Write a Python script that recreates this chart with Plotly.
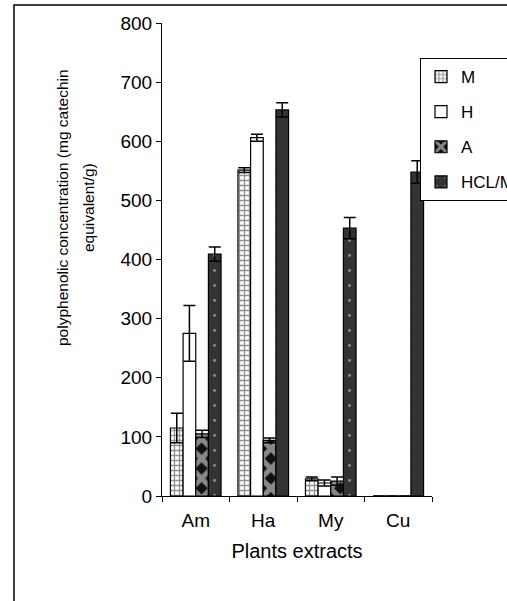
import plotly.graph_objects as go

categories = ["Am", "Ha", "My", "Cu"]
series_names = ["M", "H", "A", "HCL/M"]
m_vals = [115, 551, 29, 0]
m_err = [25, 4, 3, 0]
h_vals = [275, 606, 22, 0]
h_err = [47, 6, 5, 0]
a_vals = [105, 94, 25, 0]
a_err = [6, 4, 7, 0]
hcl_vals = [409, 653, 453, 548]
hcl_err = [12, 12, 18, 19]
y_ticks = [0, 100, 200, 300, 400, 500, 600, 700, 800]

FONT = "Liberation Sans, Arial, sans-serif"

styles = [
    dict(color="white", pattern=dict(shape="+", fgcolor="#222", bgcolor="white", size=5, solidity=0.45)),
    dict(color="white"),
    dict(color="white", pattern=dict(shape="x", fgcolor="white", bgcolor="#111", size=14, solidity=0.6)),
    dict(color="#333333", pattern=dict(shape=".", fgcolor="#e8e8e8", bgcolor="#333333", size=15, solidity=0.03)),
]
vals = [m_vals, h_vals, a_vals, hcl_vals]
errs = [m_err, h_err, a_err, hcl_err]

fig = go.Figure()
for i, name in enumerate(series_names):
    marker = dict(styles[i])
    marker["line"] = dict(color="black", width=1.2)
    fig.add_trace(go.Bar(
        x=categories, y=vals[i], name=name, legendgroup=name,
        marker=marker,
        error_y=dict(type="data", array=errs[i], visible=True, color="black", thickness=1.5, width=6),
    ))

fig.update_layout(
    width=507, height=601,
    margin=dict(l=162, r=75, t=23, b=105, autoexpand=False),
    plot_bgcolor="white", paper_bgcolor="white",
    barmode="group", bargap=0.25, bargroupgap=0,
    font=dict(family=FONT, color="black", size=16),
    showlegend=True,
    legend=dict(x=(420 - 162) / 270, y=0.926, xanchor="left", yanchor="top",
                bordercolor="black", borderwidth=1, bgcolor="white",
                font=dict(size=17, family=FONT), tracegroupgap=10,
                traceorder="grouped"),
    xaxis=dict(showline=True, linecolor="black", linewidth=1,
               ticks="outside", ticklen=5, tickcolor="black", tickson="boundaries",
               tickfont=dict(size=19, family=FONT), ticklabelstandoff=7,
               title=dict(text="Plants extracts", font=dict(size=20, family=FONT), standoff=14),
               showgrid=False, zeroline=False),
    yaxis=dict(range=[0, 800], tickvals=y_ticks, showline=True, linecolor="black", linewidth=1,
               ticks="outside", ticklen=5, tickcolor="black",
               tickfont=dict(size=19, family=FONT),
               showgrid=False, zeroline=False),
    annotations=[
        dict(text="polyphenolic concentration (mg catechin", textangle=-90,
             xref="paper", yref="paper", x=(62 - 162) / 270, y=(496 - 208) / 473,
             xanchor="center", yanchor="middle",
             showarrow=False, font=dict(size=15.5, family=FONT)),
        dict(text="equivalent/g)", textangle=-90,
             xref="paper", yref="paper", x=(88 - 162) / 270, y=(496 - 208) / 473,
             xanchor="center", yanchor="middle",
             showarrow=False, font=dict(size=15.5, family=FONT)),
    ],
    shapes=[
        dict(type="rect", xref="paper", yref="paper",
             x0=(14 - 162) / 270, x1=2.0, y0=-1.0, y1=(496 - 5) / 473,
             line=dict(color="black", width=1.5), fillcolor="rgba(0,0,0,0)", layer="below"),
    ],
)

fig.write_html("out.html")
